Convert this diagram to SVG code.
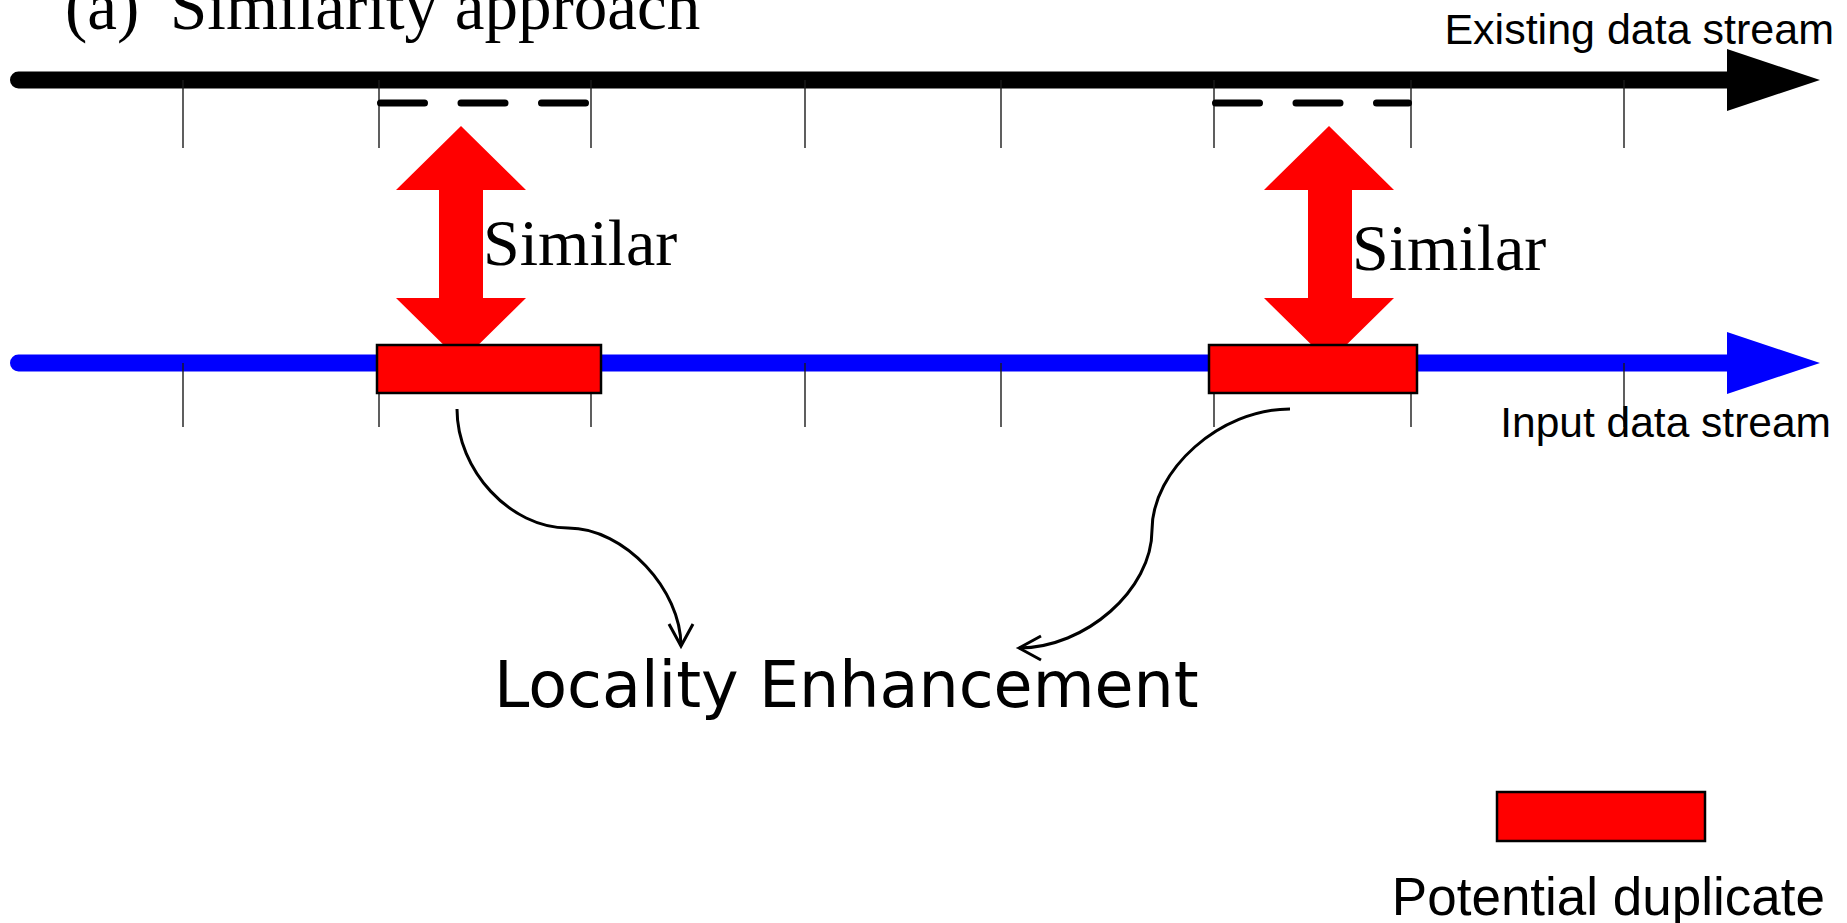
<svg xmlns="http://www.w3.org/2000/svg" width="1847" height="923" viewBox="0 0 1847 923">
  <style>
    .serif { font-family: "Liberation Serif", "Times New Roman", serif; fill: #000; }
    .sans { font-family: "Liberation Sans", Arial, sans-serif; fill: #000; }
    .deja { font-family: "DejaVu Sans", Verdana, sans-serif; fill: #000; }
    .tick { stroke: #1a1a1a; stroke-width: 1.4; }
    .dup { fill: #ff0000; stroke: #000; stroke-width: 2.5; }
    .sim { fill: #ff0000; stroke: none; }
    .dash { stroke: #000; stroke-width: 7; stroke-linecap: round; stroke-dasharray: 44 36.5; fill: none; }
    .link { fill: none; stroke: #000; stroke-width: 3; }
  </style>
  <defs>
    <marker id="open-head" markerUnits="userSpaceOnUse" viewBox="-26 -15 30 30" markerWidth="30" markerHeight="30" refX="0" refY="0" orient="auto">
      <path d="M-22,-12 L0,0 L-22,12" fill="none" stroke="#000" stroke-width="3"/>
    </marker>
  </defs>
  <rect width="1847" height="923" fill="#fff"/>

  <!-- title -->
  <g id="title">
    <text class="serif" x="65" y="29" font-size="67">(a)</text>
    <text class="serif" x="170" y="29" font-size="67">Similarity approach</text>
  </g>

  <!-- existing data stream (black timeline) -->
  <g id="existing-stream">
    <line x1="18.5" y1="80" x2="1735" y2="80" stroke="#000" stroke-width="17" stroke-linecap="round"/>
    <polygon points="1727,49 1820,80 1727,111" fill="#000"/>
    <g>
      <line class="tick" x1="183" y1="80" x2="183" y2="148"/>
      <line class="tick" x1="379" y1="80" x2="379" y2="148"/>
      <line class="tick" x1="591" y1="80" x2="591" y2="148"/>
      <line class="tick" x1="805" y1="80" x2="805" y2="148"/>
      <line class="tick" x1="1001" y1="80" x2="1001" y2="148"/>
      <line class="tick" x1="1214" y1="80" x2="1214" y2="148"/>
      <line class="tick" x1="1411" y1="80" x2="1411" y2="148"/>
      <line class="tick" x1="1624" y1="80" x2="1624" y2="148"/>
    </g>
    <text class="sans" x="1834" y="44" font-size="43" text-anchor="end">Existing data stream</text>
  </g>

  <!-- matched segments in the existing stream -->
  <g id="match-1">
    <line class="dash" x1="380.5" y1="103" x2="585.5" y2="103"/>
  </g>
  <g id="match-2">
    <line class="dash" x1="1215.5" y1="103" x2="1408.5" y2="103"/>
  </g>

  <!-- input data stream (blue timeline) -->
  <g id="input-stream">
    <line x1="18.5" y1="363" x2="1735" y2="363" stroke="#0000ff" stroke-width="17" stroke-linecap="round"/>
    <polygon points="1727,332 1820,363 1727,394" fill="#0000ff"/>
    <g>
      <line class="tick" x1="183" y1="363" x2="183" y2="427"/>
      <line class="tick" x1="379" y1="363" x2="379" y2="427"/>
      <line class="tick" x1="591" y1="363" x2="591" y2="427"/>
      <line class="tick" x1="805" y1="363" x2="805" y2="427"/>
      <line class="tick" x1="1001" y1="363" x2="1001" y2="427"/>
      <line class="tick" x1="1214" y1="363" x2="1214" y2="427"/>
      <line class="tick" x1="1411" y1="363" x2="1411" y2="427"/>
      <line class="tick" x1="1624" y1="363" x2="1624" y2="427"/>
    </g>
    <text class="sans" x="1831" y="437" font-size="42.5" text-anchor="end">Input data stream</text>
  </g>

  <!-- similarity double arrows -->
  <g id="similar-1">
    <polygon class="sim" points="461,126 526,190 483,190 483,298 526,298 461,362 396,298 439,298 439,190 396,190"/>
    <text class="serif" x="483" y="265" font-size="66">Similar</text>
  </g>
  <g id="similar-2">
    <polygon class="sim" points="1329,126 1394,190 1352,190 1352,298 1394,298 1329,362 1264,298 1308,298 1308,190 1264,190"/>
    <text class="serif" x="1352" y="270" font-size="66">Similar</text>
  </g>

  <!-- potential duplicate chunks on the input stream -->
  <g id="duplicate-1">
    <rect class="dup" x="377" y="345" width="224" height="48"/>
  </g>
  <g id="duplicate-2">
    <rect class="dup" x="1209" y="345" width="208" height="48"/>
  </g>

  <!-- curved connectors to the locality label -->
  <g id="connectors">
    <path class="link" d="M457,409 C457,470 510,528 568,528 C625,528 681,590 681,646" marker-end="url(#open-head)"/>
    <path class="link" d="M1290,409 C1220,409 1152,470 1152,530 C1152,590 1085,648 1019,648" marker-end="url(#open-head)"/>
  </g>

  <g id="locality">
    <text class="deja" x="494" y="707" font-size="63.5">Locality Enhancement</text>
  </g>

  <!-- legend -->
  <g id="legend">
    <rect class="dup" x="1497" y="792" width="208" height="49"/>
    <text class="sans" x="1825" y="915" font-size="53" text-anchor="end">Potential duplicate</text>
  </g>
</svg>
